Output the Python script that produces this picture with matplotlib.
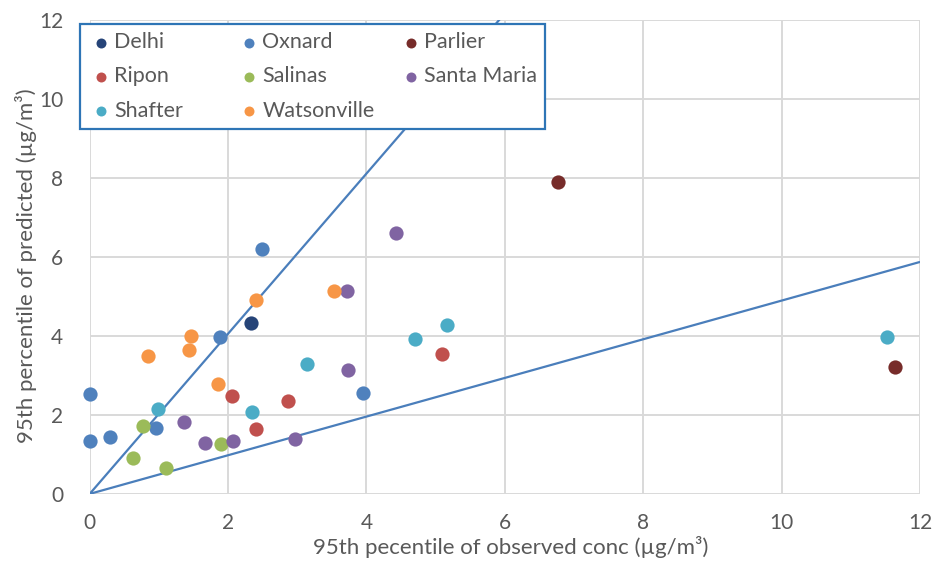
import matplotlib
matplotlib.use('Agg')

import matplotlib.pyplot as plt
from matplotlib import font_manager
from matplotlib.offsetbox import DrawingArea

# 95th percentile concentrations per site (observed, predicted), µg/m³
sites = ['Delhi', 'Oxnard', 'Parlier', 'Ripon', 'Salinas',
         'Santa Maria', 'Shafter', 'Watsonville']
colors = ['#264478', '#4F81BD', '#772C2A', '#C0504D', '#9BBB59',
          '#8064A2', '#4BACC6', '#F79646']

delhi_obs = [2.33]
delhi_pred = [4.32]
oxnard_obs = [0.0, 0.0, 0.30, 0.96, 1.88, 2.49, 3.95]
oxnard_pred = [2.53, 1.35, 1.43, 1.68, 3.98, 6.21, 2.55]
parlier_obs = [6.77, 11.64]
parlier_pred = [7.90, 3.22]
ripon_obs = [2.05, 2.87, 2.40, 5.09]
ripon_pred = [2.48, 2.35, 1.64, 3.55]
salinas_obs = [0.77, 0.63, 1.10, 1.90]
salinas_pred = [1.72, 0.92, 0.66, 1.26]
santa_maria_obs = [3.72, 4.42, 3.74, 1.36, 1.66, 2.07, 2.97]
santa_maria_pred = [5.15, 6.61, 3.14, 1.83, 1.30, 1.35, 1.38]
shafter_obs = [0.99, 2.35, 3.14, 4.70, 5.16, 11.52]
shafter_pred = [2.15, 2.08, 3.29, 3.92, 4.27, 3.97]
watsonville_obs = [0.85, 1.46, 1.44, 1.85, 2.40, 3.53]
watsonville_pred = [3.50, 4.00, 3.65, 2.78, 4.92, 5.15]

obs = [delhi_obs, oxnard_obs, parlier_obs, ripon_obs, salinas_obs,
       santa_maria_obs, shafter_obs, watsonville_obs]
pred = [delhi_pred, oxnard_pred, parlier_pred, ripon_pred, salinas_pred,
        santa_maria_pred, shafter_pred, watsonville_pred]

# roughly factor-of-two reference lines through the origin
ref_slopes = [2.03, 0.49]
ref_x = [0, 12]

names = {f.name for f in font_manager.fontManager.ttflist}
base_font = ['Lato', 'DejaVu Sans'] if 'Lato' in names else ['DejaVu Sans']
plt.rcParams['font.family'] = base_font

grey = '#595959'
grid_col = '#D9D9D9'

fig = plt.figure(figsize=(9.35, 5.61), dpi=100)
ax = fig.add_axes([0.0959, 0.1196, 0.8881, 0.8439])

for s in ref_slopes:
    ax.plot(ref_x, [s * x for x in ref_x], color='#4A7EBB', lw=1.6,
            zorder=2, solid_capstyle='butt')

for name, col, xo, yp in zip(sites, colors, obs, pred):
    ax.scatter(xo, yp, s=105, color=col, linewidths=0, label=name,
               zorder=3, clip_on=False)

ax.set_xlim(0, 12)
ax.set_ylim(0, 12)
ax.set_xticks(range(0, 13, 2))
ax.set_yticks(range(0, 13, 2))
ax.grid(True, color=grid_col, lw=1.4, zorder=0)
ax.set_axisbelow(True)
for sp in ax.spines.values():
    sp.set_visible(False)
ax.tick_params(length=0, labelsize=15, labelcolor=grey)
ax.tick_params(axis='x', pad=14)
ax.tick_params(axis='y', pad=19)

ax.set_xlabel('95th pecentile of observed conc (µg/m³)', fontsize=16,
              color=grey)
ax.xaxis.set_label_coords(0.507, -0.089)
ax.set_ylabel('95th percentile of predicted (µg/m³)', fontsize=16,
              color=grey)
ax.yaxis.set_label_coords(-0.063, 0.483)

handles, labels = ax.get_legend_handles_labels()
# legend fills column-wise, so reorder to read row by row
order = [0, 3, 6, 1, 4, 7, 2, 5]
leg = ax.legend([handles[i] for i in order], [labels[i] for i in order],
                ncol=3, loc='upper left', bbox_to_anchor=(-0.0117, 0.9926),
                borderaxespad=0, fontsize=15.5, labelcolor=grey,
                handletextpad=0.0, columnspacing=1.1, handlelength=1.2,
                labelspacing=0.66, borderpad=0.38, markerscale=0.7,
                fancybox=False, framealpha=1)
leg.get_frame().set_edgecolor('#2E75B6')
leg.get_frame().set_linewidth(1.6)
leg.set_zorder(5)

# widen the first column so the columns come out evenly spaced
first_col = leg._legend_handle_box.get_children()[0]
first_col.get_children()[0].get_children().append(DrawingArea(35, 1))

fig.savefig('out.png', dpi=100)
